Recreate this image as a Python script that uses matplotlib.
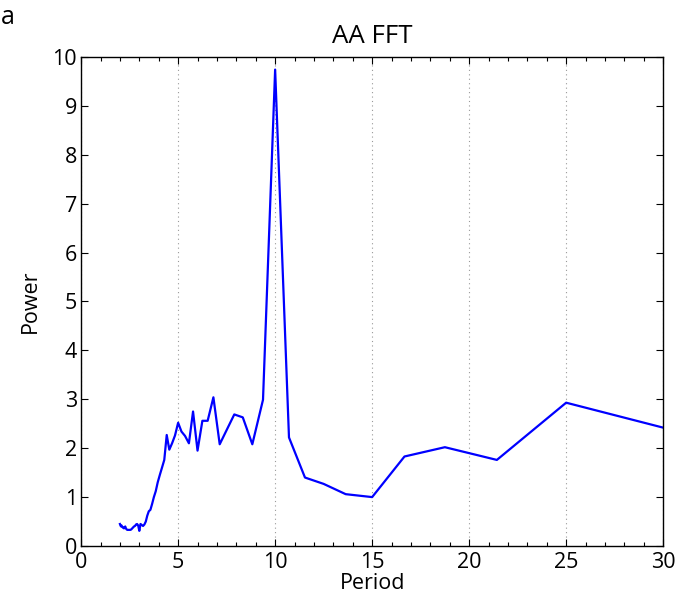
import numpy as np
import matplotlib.pyplot as plt
from matplotlib.ticker import MultipleLocator

# periods of the FFT bins (150 / k, k = 75 .. 5) and their power
period = [2.0, 2.027, 2.055, 2.083, 2.113, 2.143, 2.174, 2.206, 2.239, 2.273,
          2.308, 2.344, 2.381, 2.419, 2.459, 2.5, 2.542, 2.586, 2.632, 2.679,
          2.727, 2.778, 2.830, 2.885, 2.941, 3.0, 3.061, 3.125, 3.191, 3.261,
          3.333, 3.409, 3.488, 3.571, 3.659, 3.75, 3.846, 3.947, 4.054, 4.167,
          4.286, 4.412, 4.545, 4.688, 4.839, 5.0, 5.172, 5.357, 5.556, 5.769,
          6.0, 6.25, 6.522, 6.818, 7.143, 7.5, 7.895, 8.333, 8.824, 9.375,
          10.0, 10.714, 11.538, 12.5, 13.636, 15.0, 16.667, 18.75, 21.429, 25.0,
          30.0]
power = [0.45, 0.42, 0.40, 0.42, 0.40, 0.38, 0.38, 0.36, 0.37, 0.40,
         0.36, 0.34, 0.33, 0.33, 0.33, 0.33, 0.33, 0.34, 0.36, 0.38,
         0.40, 0.41, 0.44, 0.45, 0.42, 0.31, 0.45, 0.43, 0.41, 0.44,
         0.50, 0.62, 0.71, 0.74, 0.86, 1.00, 1.12, 1.30, 1.45, 1.60,
         1.76, 2.27, 1.97, 2.10, 2.26, 2.52, 2.34, 2.25, 2.10, 2.75,
         1.95, 2.56, 2.56, 3.04, 2.08, 2.37, 2.69, 2.63, 2.08, 2.99,
         9.74, 2.22, 1.40, 1.27, 1.06, 1.00, 1.83, 2.02, 1.76, 2.93,
         2.42]

xticks = [0, 5, 10, 15, 20, 25, 30]
yticks = list(range(0, 11))

plt.rcParams['font.family'] = ['Open Sans', 'DejaVu Sans']
plt.rcParams['font.size'] = 15.5

fig = plt.figure(figsize=(6.76, 6.05), dpi=100)
ax = fig.add_axes([0.12, 0.0975, 0.861, 0.8085])

ax.plot(period, power, color='#0000ff', lw=1.6, clip_on=True)

ax.set_xlim(0, 30)
ax.set_ylim(0, 10)
ax.set_xticks(xticks)
ax.set_yticks(yticks)
ax.xaxis.set_minor_locator(MultipleLocator(1))
ax.tick_params(which='both', direction='in', top=True, right=True, width=0.8)
ax.tick_params(which='major', length=5, pad=4)
ax.tick_params(which='minor', length=3)
ax.tick_params(axis='y', pad=3)
ax.grid(axis='x', which='major', linestyle=(0, (1, 3)), color='#999999', lw=0.8)
for s in ax.spines.values():
    s.set_linewidth(1.0)

ax.set_xlabel('Period', labelpad=0)
ax.set_ylabel('Power', labelpad=8)
ax.set_title('AA FFT', pad=10)
fig.text(0.002, 0.992, 'a', ha='left', va='top', fontsize=18)

fig.savefig('out.png', dpi=100)
